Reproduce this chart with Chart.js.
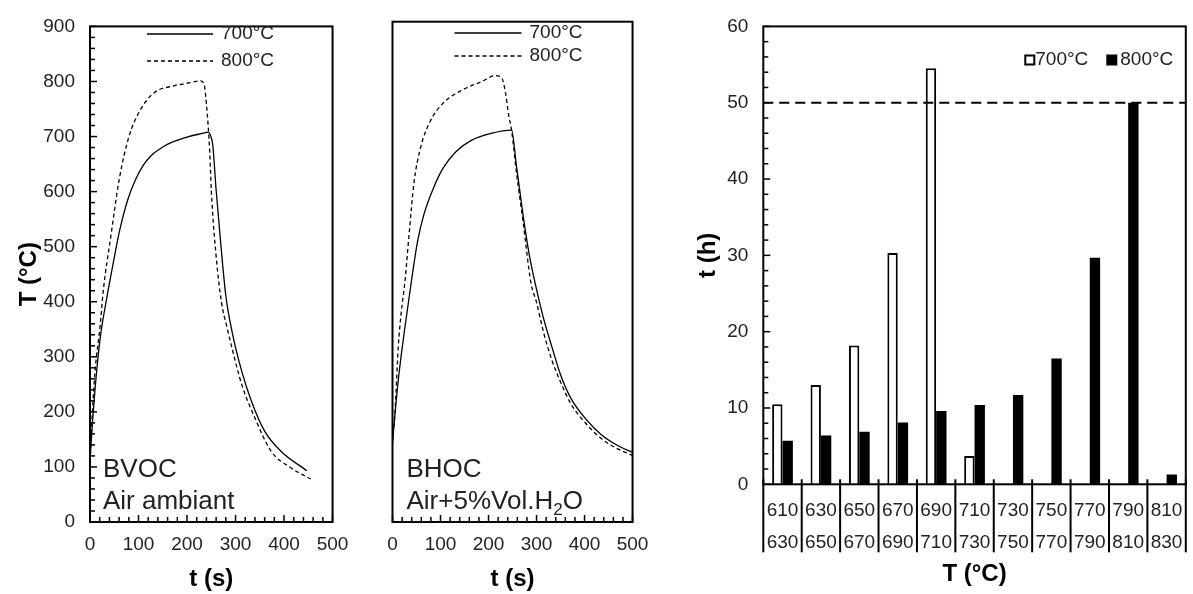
<!DOCTYPE html>
<html>
<head>
<meta charset="utf-8">
<script src="https://cdn.jsdelivr.net/npm/chart.js@4.4.1/dist/chart.umd.min.js"></script>
<style>
  html, body { margin: 0; padding: 0; background: #fff; }
  #wrap { position: relative; width: 1193px; height: 594px; }
  canvas { position: absolute; top: 0; }
</style>
</head>
<body>
<div id="wrap">
  <canvas id="bvoc" width="360" height="594" style="left:0px"></canvas>
  <canvas id="bhoc" width="300" height="594" style="left:360px"></canvas>
  <canvas id="hours" width="533" height="594" style="left:660px"></canvas>
</div>
<script>
// BVOC - air ambiant, temperature (°C) vs time (s)
const bvocTime700 = [0, 5, 10, 20, 36, 50, 60, 77, 93, 110, 127, 150, 167, 200, 233, 243, 248, 253, 260, 270, 280, 293, 313, 333, 360, 393, 447];
const bvocTemp700 = [110, 180, 237, 327, 414, 480, 525, 583, 620, 648, 666, 681, 689, 699, 706, 708, 703, 685, 603, 501, 411, 345, 273, 219, 165, 129, 93];
const bvocTime800 = [0, 5, 10, 21, 27, 43, 60, 80, 103, 133, 173, 207, 227, 235, 240, 247, 250, 260, 271, 282, 293, 313, 340, 373, 413, 455];
const bvocTemp800 = [110, 200, 270, 357, 417, 519, 621, 699, 747, 780, 792, 798, 801, 795, 759, 669, 603, 483, 399, 355, 315, 249, 189, 129, 99, 78];

// BHOC - air + 5%vol H2O
const bhocTime700 = [0, 12, 25, 40, 52, 65, 85, 105, 132, 165, 205, 248, 258, 272, 285, 298, 315, 332, 350, 372, 402, 435, 468, 500];
const bhocTemp700 = [145, 255, 345, 437, 504, 552, 600, 636, 666, 687, 699, 705, 642, 552, 480, 426, 365, 315, 265, 222, 186, 157, 138, 125];
const bhocTime800 = [0, 5, 12, 18, 26, 35, 45, 58, 78, 105, 145, 185, 215, 228, 235, 242, 248, 258, 272, 288, 300, 315, 332, 350, 372, 402, 435, 468, 500];
const bhocTemp800 = [145, 195, 315, 375, 433, 522, 612, 672, 720, 753, 777, 792, 803, 798, 774, 732, 705, 630, 540, 432, 395, 340, 291, 252, 212, 178, 150, 132, 120];

// hours spent per temperature range
const rangeLow  = ['610', '630', '650', '670', '690', '710', '730', '750', '770', '790', '810'];
const rangeHigh = ['630', '650', '670', '690', '710', '730', '750', '770', '790', '810', '830'];
const hours700 = [10.5, 13.0, 18.2, 30.3, 54.5, 3.7, null, null, null, null, null];
const hours800 = [5.7, 6.4, 6.9, 8.1, 9.6, 10.4, 11.7, 16.5, 29.7, 50.0, 1.3];
const limitHours = 50;

const FONT = "'Liberation Sans', Arial, sans-serif";
Chart.defaults.font.family = FONT;
Chart.defaults.color = '#222';

const pts = (ts, vs) => ts.map((t, i) => ({x: t, y: vs[i]}));

// box, inner ticks, separators, limit line, legends and notes
const framePlugin = {
  id: 'frame',
  afterDatasetsDraw(chart, args, opts) {
    const ctx = chart.ctx;
    const a = chart.chartArea;
    const seg = (x1, y1, x2, y2) => { ctx.beginPath(); ctx.moveTo(x1, y1); ctx.lineTo(x2, y2); ctx.stroke(); };
    ctx.save();
    ctx.strokeStyle = '#000';
    ctx.fillStyle = '#222';
    ctx.setLineDash([]);

    ctx.lineWidth = 1.5;
    if (opts.xMinor) {
      const s = chart.scales.x;
      for (let v = s.min; v <= s.max + 1e-6; v += opts.xMinor) {
        const px = s.getPixelForValue(v);
        const len = Math.abs(v % opts.xMajor) < 1e-6 ? 7 : 5;
        seg(px, a.bottom, px, a.bottom - len);
      }
    }
    if (opts.yMinor) {
      const s = chart.scales.y;
      for (let v = s.min; v <= s.max + 1e-6; v += opts.yMinor) {
        const py = s.getPixelForValue(v);
        const len = Math.abs(v % opts.yMajor) < 1e-6 ? 7 : 5;
        seg(a.left, py, a.left + len, py);
      }
    }
    ctx.lineWidth = 2;
    if (opts.limit !== undefined) {
      const py = chart.scales.y.getPixelForValue(opts.limit);
      ctx.setLineDash([10, 6]);
      seg(a.left, py, a.right, py);
      ctx.setLineDash([]);
    }
    if (opts.separators) {
      const s = chart.scales.x;
      const n = chart.data.labels.length;
      for (let i = 0; i <= n; i++) {
        const px = s.getPixelForValue(i - 0.5);
        seg(px, a.bottom - 5, px, a.bottom + opts.separators);
      }
    }
    ctx.strokeRect(a.left, a.top, a.right - a.left, a.bottom - a.top);

    ctx.font = '19px ' + FONT;
    ctx.textBaseline = 'middle';
    ctx.textAlign = 'left';
    if (opts.lineLegend) {
      const L = opts.lineLegend;
      L.rows.forEach((y, i) => {
        const ds = chart.data.datasets[i];
        ctx.lineWidth = 1.3;
        ctx.setLineDash(ds.borderDash || []);
        seg(a.left + L.x1, y, a.left + L.x2, y);
        ctx.setLineDash([]);
        ctx.fillText(ds.label, a.left + L.textX, y);
      });
    }
    if (opts.boxLegend) {
      const B = opts.boxLegend;
      B.items.forEach((it, i) => {
        const ds = chart.data.datasets[i];
        const bx = a.left + it.box;
        ctx.fillStyle = ds.backgroundColor;
        ctx.fillRect(bx, B.y - B.size / 2, B.size, B.size);
        ctx.lineWidth = 2;
        ctx.strokeRect(bx, B.y - B.size / 2, B.size, B.size);
        ctx.fillStyle = '#222';
        ctx.fillText(ds.label, a.left + it.text, B.y);
      });
    }
    (opts.notes || []).forEach(n => {
      let x = a.left + n.dx;
      n.parts.forEach(([txt, sub]) => {
        ctx.font = (sub ? 17 : 26) + 'px ' + FONT;
        ctx.fillText(txt, x, n.y + (sub ? 8 : 0));
        x += ctx.measureText(txt).width;
      });
    });
    ctx.restore();
  }
};

function curveChart(id, t700, v700, t800, v800, showY, pad, legend, notes) {
  return new Chart(document.getElementById(id), {
    type: 'line',
    data: {
      datasets: [
        {label: '700°C', data: pts(t700, v700), borderColor: '#000', borderWidth: 1.3,
         pointRadius: 0, cubicInterpolationMode: 'monotone', borderDash: []},
        {label: '800°C', data: pts(t800, v800), borderColor: '#000', borderWidth: 1.3,
         pointRadius: 0, cubicInterpolationMode: 'monotone', borderDash: [4, 3]}
      ]
    },
    options: {
      responsive: false,
      animation: false,
      layout: {padding: pad},
      plugins: {
        legend: {display: false},
        tooltip: {enabled: false},
        frame: {xMinor: 20, xMajor: 100, yMinor: showY ? 20 : 0, yMajor: 100, lineLegend: legend, notes: notes}
      },
      scales: {
        x: {
          type: 'linear', min: 0, max: 500,
          ticks: {stepSize: 100, padding: 11.6, maxRotation: 0, font: {size: 19}},
          grid: {display: false, drawTicks: false},
          border: {display: false},
          title: {display: true, text: 't (s)', color: '#000', font: {size: 24, weight: 'bold'}, padding: {top: 0, bottom: 0}},
          afterFit(s) { s.height = 72; }
        },
        y: {
          display: showY,
          min: 0, max: 900,
          ticks: {stepSize: 100, padding: 15, font: {size: 19}},
          grid: {display: false, drawTicks: false},
          border: {display: false},
          title: {display: true, text: 'T (°C)', color: '#000', font: {size: 24, weight: 'bold'}, padding: {top: 14.6, bottom: 0}},
          afterFit(s) { s.width = showY ? 90 : 0; }
        }
      }
    },
    plugins: [framePlugin]
  });
}

curveChart('bvoc', bvocTime700, bvocTemp700, bvocTime800, bvocTemp800, true,
  {top: 21.7, right: 20, bottom: 0, left: 0},
  {x1: 57, x2: 123, textX: 131, rows: [34, 61]},
  [{dx: 13, y: 470, parts: [['BVOC', 0]]}, {dx: 13, y: 502, parts: [['Air ambiant', 0]]}]);

curveChart('bhoc', bhocTime700, bhocTemp700, bhocTime800, bhocTemp800, false,
  {top: 21.7, right: 17.5, bottom: 0, left: 32.5},
  {x1: 62, x2: 129, textX: 137, rows: [33, 56]},
  [{dx: 14, y: 470, parts: [['BHOC', 0]]}, {dx: 14, y: 502, parts: [['Air+5%Vol.H', 0], ['2', 1], ['O', 0]]}]);

new Chart(document.getElementById('hours'), {
  type: 'bar',
  data: {
    labels: rangeLow.map((lo, i) => [lo, rangeHigh[i]]),
    datasets: [
      {label: '700°C', data: hours700, backgroundColor: '#fff', borderColor: '#000', borderWidth: 2},
      {label: '800°C', data: hours800, backgroundColor: '#000', borderColor: '#000', borderWidth: 0}
    ]
  },
  options: {
    responsive: false,
    animation: false,
    datasets: {bar: {categoryPercentage: 0.54, barPercentage: 1}},
    layout: {padding: {top: 21, right: 1.3, bottom: 0, left: 0}},
    plugins: {
      legend: {display: false},
      tooltip: {enabled: false},
      frame: {yMinor: 2, yMajor: 10, separators: 68, limit: limitHours,
              boxLegend: {y: 60, size: 9, items: [{box: 262, text: 272}, {box: 344, text: 357}]}}
    },
    scales: {
      x: {
        type: 'category', offset: true,
        ticks: {padding: 10.5, autoSkip: false, maxRotation: 0, font: {size: 19, lineHeight: '32px'}},
        grid: {display: false, drawTicks: false, offset: true},
        border: {display: false},
        title: {display: true, text: 'T (°C)', color: '#000', font: {size: 24, weight: 'bold'}, padding: {top: 0, bottom: 5}},
        afterFit(s) { s.height = 109.7; }
      },
      y: {
        min: 0, max: 60,
        ticks: {stepSize: 10, padding: 15, font: {size: 19}},
        grid: {display: false, drawTicks: false},
        border: {display: false},
        title: {display: true, text: 't (h)', color: '#000', font: {size: 24, weight: 'bold'}, padding: {top: 34.1, bottom: 0}},
        afterFit(s) { s.width = 103.3; }
      }
    }
  },
  plugins: [framePlugin]
});
</script>
</body>
</html>
